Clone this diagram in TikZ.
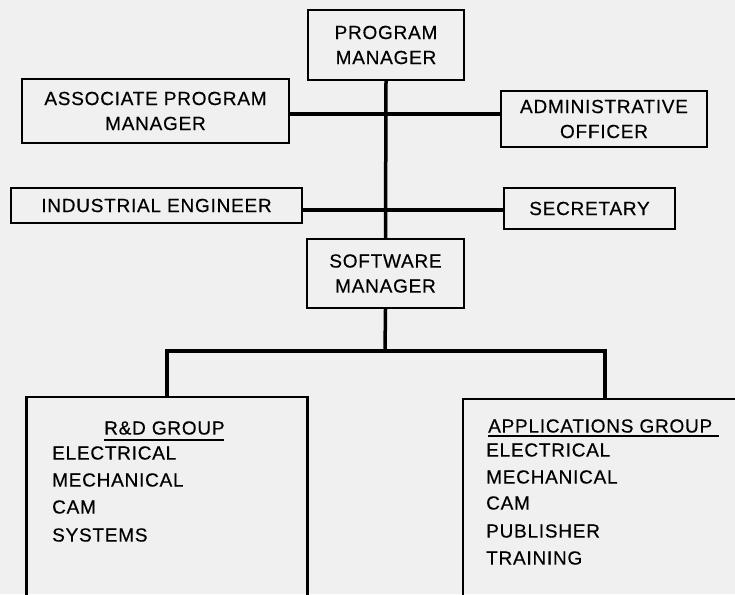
\documentclass[tikz,border=0pt]{standalone}
\usepackage{fontspec}
\setmainfont{Liberation Sans}[LetterSpace=4,FakeBold=0.4]
\begin{document}
\begin{tikzpicture}[x=1pt,y=-1pt,
  box/.style={draw=black,line width=2.2pt,rectangle,inner sep=0pt,align=center,
    font=\fontsize{19}{25}\selectfont},
  conn/.style={draw=black,line width=3.5pt},
  item/.style={anchor=west,inner sep=0pt,font=\fontsize{19}{22}\selectfont}]
\fill[white!94!black] (0,0) rectangle (735,594);
\useasboundingbox (0,0) rectangle (735,594);
\clip (0,0) rectangle (735,594);
% boxes
\node[box,minimum width=156pt,minimum height=70pt] (pm) at (386,45) {PROGRAM\\MANAGER};
\node[box,minimum width=267pt,minimum height=64pt] (apm) at (155.5,111) {ASSOCIATE PROGRAM\\MANAGER};
\node[box,minimum width=206pt,minimum height=56pt] (ao) at (604,119) {ADMINISTRATIVE\\OFFICER};
\node[box,minimum width=291pt,minimum height=35pt] (ie) at (156.5,205.5) {INDUSTRIAL ENGINEER};
\node[box,minimum width=171pt,minimum height=41pt] (sec) at (589.5,208.5) {SECRETARY};
\node[box,minimum width=157pt,minimum height=69pt] (sm) at (385.5,273.5) {SOFTWARE\\MANAGER};
\node[box,minimum width=281pt,minimum height=230pt] (rd) at (167,512) {};
\node[box,minimum width=284pt,minimum height=230pt] (ap) at (605,514) {};
% connectors
\coordinate (j1) at (385,114);
\coordinate (j2) at (385,210);
\coordinate (j3) at (385,351);
\draw[conn] (pm.south) -- (sm.north);
\draw[conn] (apm.east |- j1) -- (ao.west |- j1);
\draw[conn] (ie.east |- j2) -- (sec.west |- j2);
\draw[conn] (sm.south) -- (j3);
\draw[conn] (rd.north) |- (j3) -| (ap.north);
% R&D group
\node[item] (rdt) at (104,428) {R\&D GROUP};
\draw[line width=1.6pt] (rdt.south west) ++(0,5) coordinate (u1) -- ++(120,0);
\node[item] (r1) at (52,453) {ELECTRICAL};
\node[item] (r2) at (52,480) {MECHANICAL};
\node[item] (r3) at (52,507) {CAM};
\node[item] (r4) at (52,535) {SYSTEMS};
% Applications group
\node[item] (apt) at (488,426) {APPLICATIONS GROUP};
\draw[line width=1.6pt] (apt.south west) ++(0,3) coordinate (u2) -- ++(231,0);
\node[item] (a1) at (486,450) {ELECTRICAL};
\node[item] (a2) at (486,477) {MECHANICAL};
\node[item] (a3) at (486,503) {CAM};
\node[item] (a4) at (486,531) {PUBLISHER};
\node[item] (a5) at (486,558) {TRAINING};
\end{tikzpicture}
\end{document}
